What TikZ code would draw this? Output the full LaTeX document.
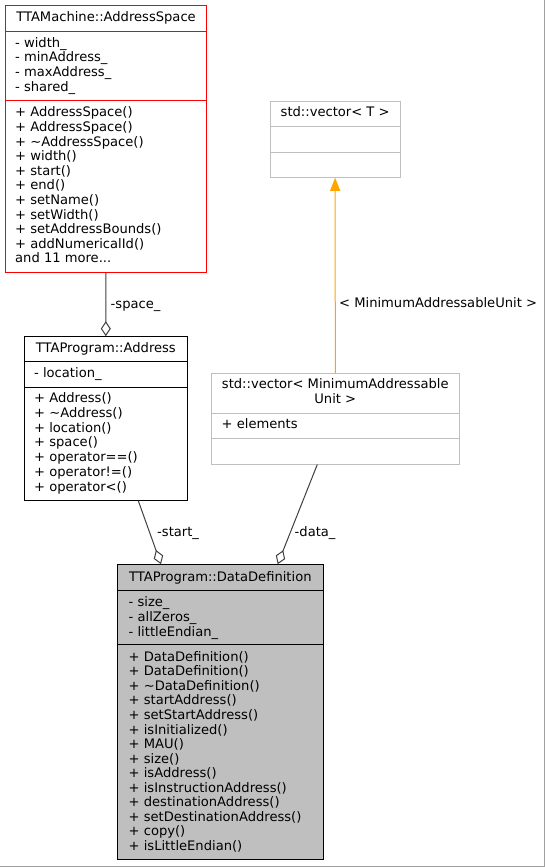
\documentclass[tikz,border=0pt]{standalone}
\usepackage{fontspec}
\setmainfont{DejaVu Sans}
\usetikzlibrary{arrows.meta,calc}
\definecolor{dgray}{HTML}{404040}
\definecolor{lgray}{HTML}{BFBFBF}
\definecolor{ddfill}{HTML}{BFBFBF}
\definecolor{orng}{HTML}{FFA500}
\definecolor{edgegray}{HTML}{A0A0A0}
\newcommand{\threedots}{...}
\tikzset{
  txt/.style={anchor=base west, inner sep=0pt, font=\fontsize{13.1}{14.6}\selectfont},
  ttl/.style={anchor=base, inner sep=0pt, font=\fontsize{13.1}{14.6}\selectfont},
  box/.style={rectangle, inner sep=0pt, line width=1pt},
  conn/.style={draw=dgray, line width=1pt},
  agg/.style={conn, -{Diamond[open, fill=white, length=15pt, width=10pt, line width=1pt]}},
  inh/.style={draw=orng, line width=1pt, -{Triangle[length=13pt, width=10pt]}},
}
\newcommand{\mlines}[5]{%
  \foreach \t [count=\k from 0] in {#5} {\node[txt] (#1\k) at (#2, #3+#4*\k) {\t};}}
\begin{document}
\begin{tikzpicture}[x=1pt, y=-1pt]
\useasboundingbox (0,0) rectangle (545,867);
\fill[white] (0,0) rectangle (545,867);
\draw[edgegray, line width=1pt] (544.5,0) -- (544.5,866.5) -- (0,866.5);

% TTAMachine::AddressSpace
\node[box, draw=red, minimum width=201.7pt, minimum height=266.3pt] (as) at (105.85,138.85) {};
\draw[red, line width=1pt] (as.west |- 0,31.3) -- (as.east |- 0,31.3);
\draw[red, line width=1pt] (as.west |- 0,100) -- (as.east |- 0,100);
\node[ttl] (astitle) at (106,21.2) {TTAMachine::AddressSpace};
\mlines{asa}{15}{47.2}{14.67}{- width\_, - minAddress\_, - maxAddress\_, - shared\_}
\mlines{asm}{15}{116.8}{14.6}{+ AddressSpace(), + AddressSpace(), + \textasciitilde AddressSpace(), + width(), + start(), + end(), + setName(), + setWidth(), + setAddressBounds(), + addNumericalId(), and 11 more\threedots}

% TTAProgram::Address
\node[box, draw=black, minimum width=163pt, minimum height=163.6pt] (ad) at (105.8,418.5) {};
\draw[black, line width=1pt] (ad.west |- 0,361.3) -- (ad.east |- 0,361.3);
\draw[black, line width=1pt] (ad.west |- 0,387) -- (ad.east |- 0,387);
\node[ttl] (adtitle) at (105.8,352.8) {TTAProgram::Address};
\mlines{ada}{34}{377.8}{14.7}{- location\_}
\mlines{adm}{34}{402.5}{14.78}{+ Address(), + \textasciitilde Address(), + location(), + space(), + operator==(), + operator!=(), + operator<()}

% std::vector< T >
\node[box, draw=lgray, minimum width=129.7pt, minimum height=76pt] (vt) at (335.15,139.3) {};
\draw[lgray, line width=1pt] (vt.west |- 0,126.3) -- (vt.east |- 0,126.3);
\draw[lgray, line width=1pt] (vt.west |- 0,152) -- (vt.east |- 0,152);
\node[ttl] (vttitle) at (335.15,116.8) {std::vector< T >};

% std::vector< MinimumAddressableUnit >
\node[box, draw=lgray, minimum width=248pt, minimum height=90.7pt] (vm) at (335.3,418.65) {};
\draw[lgray, line width=1pt] (vm.west |- 0,413.3) -- (vm.east |- 0,413.3);
\draw[lgray, line width=1pt] (vm.west |- 0,438.7) -- (vm.east |- 0,438.7);
\node[ttl] (vmtitlea) at (335.3,388.8) {std::vector< MinimumAddressable};
\node[ttl] (vmtitleb) at (335.3,403.8) {Unit >};
\mlines{vma}{221.5}{428.8}{14.6}{+ elements}

% TTAProgram::DataDefinition
\node[box, draw=black, fill=ddfill, minimum width=206pt, minimum height=294.3pt] (dd) at (220.3,711.85) {};
\draw[black, line width=1pt] (dd.west |- 0,590) -- (dd.east |- 0,590);
\draw[black, line width=1pt] (dd.west |- 0,644.3) -- (dd.east |- 0,644.3);
\node[ttl] (ddtitle) at (220.3,581.2) {TTAProgram::DataDefinition};
\mlines{dda}{128.5}{606.2}{15}{- size\_, - allZeros\_, - littleEndian\_}
\mlines{ddm}{128.5}{661.2}{14.56}{+ DataDefinition(), + DataDefinition(), + \textasciitilde DataDefinition(), + startAddress(), + setStartAddress(), + isInitialized(), + MAU(), + size(), + isAddress(), + isInstructionAddress(), + destinationAddress(), + setDestinationAddress(), + copy(), + isLittleEndian()}

% connectors
\draw[agg] (as.south) -- (ad.north);
\node[txt] (lspace) at (110.5,308.5) {-space\_};
\draw[agg] ($(ad.south)+(32.5,0)$) -- ($(dd.north)+(-59.3,0)$);
\node[txt] (lstart) at (157,536) {-start\_};
\draw[agg] ($(vm.south)+(-18,0)$) -- ($(dd.north)+(57.4,0)$);
\node[txt] (ldata) at (294.5,536) {-data\_};
\draw[inh] (vm.north) -- (vt.south);
\node[txt] (lmau) at (339,307.8) {< MinimumAddressableUnit >};
\end{tikzpicture}
\end{document}
